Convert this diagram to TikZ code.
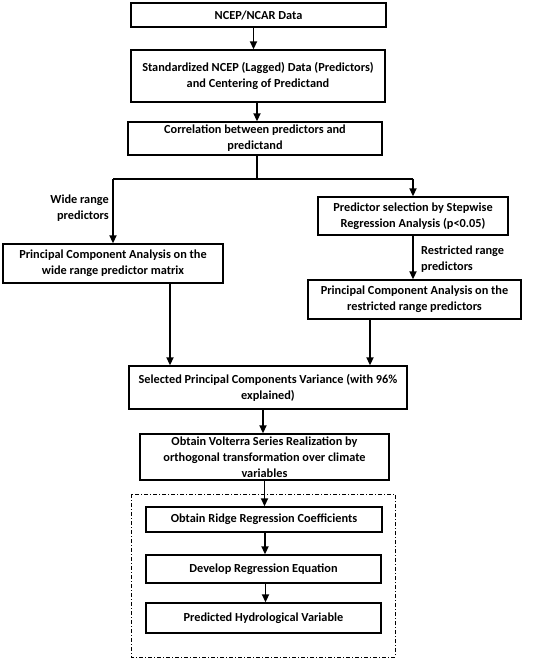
\documentclass[tikz,border=0pt]{standalone}
\usepackage{fontspec}
\setmainfont{Carlito}
\usepackage{tikz}
\usetikzlibrary{arrows.meta, calc, positioning}

\begin{document}
\begin{tikzpicture}[x=1pt,y=-1pt,>={Triangle[length=8pt,width=7pt]},
    box/.style={draw,line width=1.4pt,align=center,inner sep=2pt,
                font=\fontsize{12.3}{16}\selectfont\bfseries},
    lbl/.style={font=\fontsize{12.3}{16}\selectfont\bfseries,inner sep=1pt},
    arr/.style={->,line width=1.9pt}]
  \useasboundingbox (0,0) rectangle (550,664);
  % top chain
  \node[box,minimum width=255pt,minimum height=24pt] (ncep) at (258.5,15) {NCEP/NCAR Data};
  \node[box,minimum width=254pt,minimum height=52pt] (stand) at (258,76)
    {Standardized NCEP (Lagged) Data (Predictors)\\and Centering of Predictand};
  \node[box,minimum width=254pt,minimum height=33pt] (corr) at (255,138.5)
    {Correlation between predictors and\\predictand};
  % two branches
  \node[box,minimum width=220pt,minimum height=39pt] (pcawide) at (113,263.5)
    {Principal Component Analysis on the\\wide range predictor matrix};
  \node[box,minimum width=190pt,minimum height=38pt] (step) at (413,216)
    {Predictor selection by Stepwise\\Regression Analysis (p<0.05)};
  \node[box,minimum width=213pt,minimum height=39pt] (pcarest) at (414.5,299.5)
    {Principal Component Analysis on the\\restricted range predictors};
  % merge
  \node[box,minimum width=278pt,minimum height=43pt] (selpc) at (268,387.5)
    {Selected Principal Components Variance (with 96\%\\explained)};
  \node[box,minimum width=249pt,minimum height=46pt] (volt) at (264.5,457)
    {Obtain Volterra Series Realization by\\orthogonal transformation over climate\\variables};
  % ridge block
  \draw[line width=1pt,dash pattern=on 4pt off 2pt on 1pt off 2pt] (131,494) rectangle (395,657);
  \node[box,minimum width=236pt,minimum height=25pt] (ridge) at (264,519.5)
    {Obtain Ridge Regression Coefficients};
  \node[box,minimum width=235pt,minimum height=28pt] (deveq) at (263.5,569)
    {Develop Regression Equation};
  \node[box,minimum width=235pt,minimum height=30pt] (hydro) at (263.5,618)
    {Predicted Hydrological Variable};
  % connectors
  \draw[arr] ([xshift=-5pt]ncep.south) -- ([xshift=-5pt]ncep.south |- stand.north);
  \draw[arr] ([xshift=-1pt]stand.south) -- ([xshift=-1pt]stand.south |- corr.north);
  \draw[line width=1.9pt] ([xshift=2pt]corr.south) -- ++(0,23) coordinate (br);
  \draw[line width=1.9pt] (br -| pcawide) -- (br -| step);
  \draw[arr] (br -| pcawide) -- (pcawide.north);
  \draw[arr] (br -| step) -- (step.north);
  \draw[arr] (step.south) -- (step.south |- pcarest.north);
  \node[lbl,anchor=east,align=right] (widelbl) at (110,208) {Wide range\\predictors};
  \node[lbl,anchor=west,align=left] (restlbl) at (420,259) {Restricted range\\predictors};
  \draw[arr] ([xshift=57pt]pcawide.south) -- ([xshift=57pt]pcawide.south |- selpc.north);
  \draw[arr] ([xshift=-44.5pt]pcarest.south) -- ([xshift=-44.5pt]pcarest.south |- selpc.north);
  \draw[arr] ([xshift=-5pt]selpc.south) -- ([xshift=-5pt]selpc.south |- volt.north);
  \draw[arr] (volt.south) -- (volt.south |- ridge.north);
  \draw[arr] ([xshift=1pt]ridge.south) -- ([xshift=1pt]ridge.south |- deveq.north);
  \draw[arr] ([xshift=2pt]deveq.south) -- ([xshift=2pt]deveq.south |- hydro.north);
\end{tikzpicture}
\end{document}
